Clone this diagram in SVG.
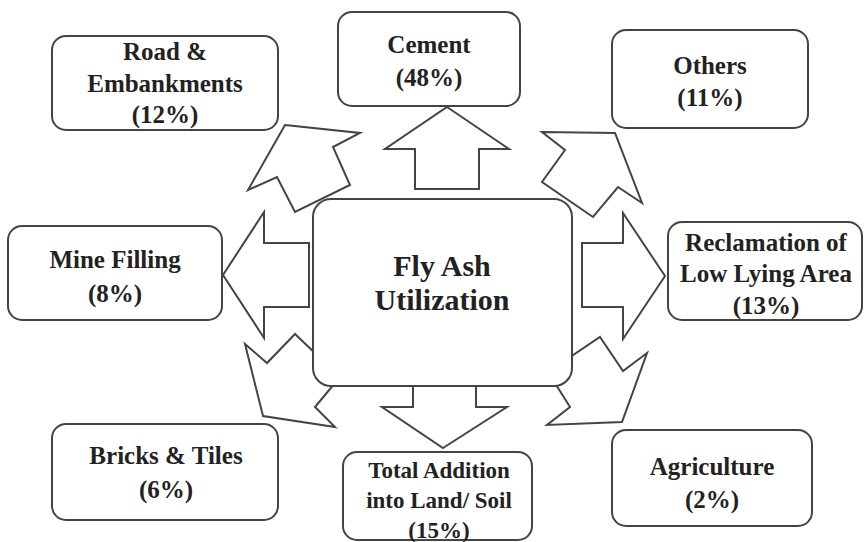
<svg xmlns="http://www.w3.org/2000/svg" width="864" height="542" viewBox="0 0 864 542">
<style>
.box{fill:#fff;stroke:#444;stroke-width:2}
.arr{fill:#fff;stroke:#444;stroke-width:2;stroke-linejoin:miter}
text{font-family:"Liberation Serif","Times New Roman",serif;font-weight:bold;font-size:25px;fill:#222;text-anchor:middle}
.big{font-size:30px}
.sm{font-size:23px}
</style>
<rect width="864" height="542" fill="#fff"/>
<g id="connectors">
<polygon class="arr" points="447,107 509,149 479,149 479,189 415,189 415,149 385,149"/>
<polygon class="arr" points="223,275 264,212 264,243 309,243 309,307 264,307 264,338"/>
<polygon class="arr" points="665,276 623,213 623,243 582,243 582,307 623,307 623,339"/>
<polygon class="arr" points="443,448 507,407 476,407 476,365 413,365 413,407 382,407"/>
<polygon class="arr" points="285,125 360,133 333,147 350,185 295,212 277,177 248,190"/>
<polygon class="arr" points="542,132 615,133 642,203 618,187 593,217 542,182 565,150"/>
<polygon class="arr" points="245,344 267,363 295,334 340,377 315,407 335,427 263,416"/>
<polygon class="arr" points="600,337 623,371 647,353 622,422 547,425 570,407 548,372"/>
</g>
<g id="center"><rect class="box" x="313" y="199" width="259" height="187" rx="18"/><text class="big" x="442" y="276">Fly Ash</text><text class="big" x="442" y="310">Utilization</text></g>
<g id="road"><rect class="box" x="52" y="36" width="226" height="94" rx="14"/><text x="165" y="60">Road &amp;</text><text x="165" y="92">Embankments</text><text x="165" y="123">(12%)</text></g>
<g id="cement"><rect class="box" x="338" y="12" width="182" height="94" rx="14"/><text x="429" y="53">Cement</text><text x="429" y="86">(48%)</text></g>
<g id="others"><rect class="box" x="612" y="30" width="196" height="98" rx="14"/><text x="710" y="74">Others</text><text x="710" y="106">(11%)</text></g>
<g id="mine"><rect class="box" x="8" y="226" width="214" height="94" rx="14"/><text x="115" y="268">Mine Filling</text><text x="115" y="302">(8%)</text></g>
<g id="reclamation"><rect class="box" x="668" y="222" width="194" height="98" rx="14"/><text x="766" y="251">Reclamation of</text><text x="766" y="282">Low Lying Area</text><text x="766" y="314">(13%)</text></g>
<g id="bricks"><rect class="box" x="52" y="424" width="226" height="96" rx="14"/><text x="166" y="464">Bricks &amp; Tiles</text><text x="166" y="498">(6%)</text></g>
<g id="total"><rect class="box" x="343" y="452" width="189" height="88" rx="14"/><text class="sm" x="439" y="478">Total Addition</text><text class="sm" x="439" y="508">into Land/ Soil</text><text class="sm" x="439" y="538">(15%)</text></g>
<g id="agriculture"><rect class="box" x="612" y="430" width="200" height="96" rx="14"/><text x="712" y="475">Agriculture</text><text x="712" y="508">(2%)</text></g>
</svg>
